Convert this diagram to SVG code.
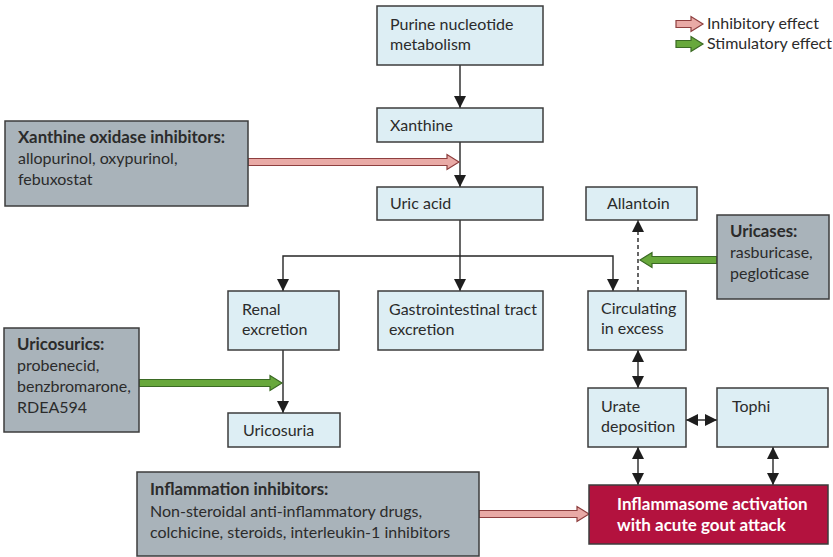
<svg xmlns="http://www.w3.org/2000/svg" width="833" height="557" viewBox="0 0 833 557">
<defs>
<style>
.bx{fill:#ddeef4;stroke:#3c3c3c;stroke-width:1.5}
.gy{fill:#a9b3ba;stroke:#3c3c3c;stroke-width:1.5}
.rd{fill:#b3123e;stroke:#3c3c3c;stroke-width:1.5}
text{font-family:Lato,"Liberation Sans",sans-serif;font-size:16px;fill:#2b2b2b}
.b{font-weight:bold;font-size:16.8px}
.w{fill:#ffffff;font-weight:bold;font-size:17px}
.ln{fill:none;stroke:#262626;stroke-width:1.4}
.inh{fill:#e9aaa6;stroke:#8e3f3f;stroke-width:1.2}
.stm{fill:#68a83c;stroke:#3b6a24;stroke-width:1.2}
</style>
<marker id="ah" viewBox="0 0 12 12" markerWidth="12" markerHeight="12" refX="12" refY="6" orient="auto-start-reverse" markerUnits="userSpaceOnUse">
<path d="M0,0 L12,6 L0,12 z" fill="#1e1e1e"/>
</marker>
</defs>
<rect width="833" height="557" fill="#ffffff"/>

<g id="connectors">
<line class="ln" x1="460" y1="65" x2="460" y2="108" marker-end="url(#ah)"/>
<line class="ln" x1="460" y1="142" x2="460" y2="187" marker-end="url(#ah)"/>
<line class="ln" x1="460" y1="220" x2="460" y2="291" marker-end="url(#ah)"/>
<polyline class="ln" points="283,291 283,256 613,256 613,291" marker-start="url(#ah)" marker-end="url(#ah)"/>
<line class="ln" x1="283" y1="350" x2="283" y2="413" marker-end="url(#ah)"/>
<line class="ln" x1="638" y1="291" x2="638" y2="220" stroke-dasharray="4,3" marker-end="url(#ah)"/>
<line class="ln" x1="638" y1="350" x2="638" y2="388" marker-start="url(#ah)" marker-end="url(#ah)"/>
<line class="ln" x1="686" y1="420" x2="717" y2="420" marker-start="url(#ah)" marker-end="url(#ah)"/>
<line class="ln" x1="638" y1="447" x2="638" y2="485" marker-start="url(#ah)" marker-end="url(#ah)"/>
<line class="ln" x1="773" y1="447" x2="773" y2="485" marker-start="url(#ah)" marker-end="url(#ah)"/>
<path class="inh" d="M248,158.5 H447 V154.5 L459,162 L447,169.5 V165.5 H248 Z"/>
<path class="inh" d="M479,510.5 H577 V506.5 L589,514 L577,521.5 V517.5 H479 Z"/>
<path class="stm" d="M139,379.5 H270 V375.5 L282,383 L270,390.5 V386.5 H139 Z"/>
<path class="stm" d="M717,256.5 H652 V252.5 L640,260 L652,267.5 V263.5 H717 Z"/>
</g>

<g id="legend">
<path class="inh" d="M676,20.5 H691 V16.5 L703,24 L691,31.5 V27.5 H676 Z"/>
<path class="stm" d="M676,40.5 H691 V36.5 L703,44 L691,51.5 V47.5 H676 Z"/>
<text x="707" y="29">Inhibitory effect</text>
<text x="707" y="49">Stimulatory effect</text>
</g>

<g id="purine"><rect class="bx" x="377" y="6" width="166" height="59"/><text x="390" y="30">Purine nucleotide</text><text x="390" y="50">metabolism</text></g>
<g id="xanthine"><rect class="bx" x="377" y="108" width="166" height="34"/><text x="390" y="131">Xanthine</text></g>
<g id="uric-acid"><rect class="bx" x="377" y="187" width="166" height="33"/><text x="390" y="209">Uric acid</text></g>
<g id="allantoin"><rect class="bx" x="586" y="187" width="111" height="33"/><text x="607" y="209">Allantoin</text></g>
<g id="renal"><rect class="bx" x="228" y="291" width="111" height="59"/><text x="242" y="315">Renal</text><text x="242" y="335">excretion</text></g>
<g id="gi"><rect class="bx" x="378" y="291" width="165" height="59"/><text x="389" y="315">Gastrointestinal tract</text><text x="389" y="335">excretion</text></g>
<g id="circulating"><rect class="bx" x="588" y="291" width="98" height="59"/><text x="601" y="314">Circulating</text><text x="601" y="334">in excess</text></g>
<g id="uricosuria"><rect class="bx" x="228" y="413" width="112" height="34"/><text x="243" y="436">Uricosuria</text></g>
<g id="urate"><rect class="bx" x="588" y="388" width="98" height="59"/><text x="601" y="412">Urate</text><text x="601" y="432">deposition</text></g>
<g id="tophi"><rect class="bx" x="717" y="388" width="111" height="59"/><text x="732" y="412">Tophi</text></g>
<g id="inflammasome"><rect class="rd" x="589" y="485" width="239" height="59"/><text class="w" x="617" y="510">Inflammasome activation</text><text class="w" x="617" y="531">with acute gout attack</text></g>

<g id="xo-inhibitors"><rect class="gy" x="5" y="121" width="243" height="85"/><text class="b" x="18" y="143">Xanthine oxidase inhibitors:</text><text x="18" y="164">allopurinol, oxypurinol,</text><text x="18" y="185">febuxostat</text></g>
<g id="uricases"><rect class="gy" x="717" y="215" width="112" height="84"/><text class="b" x="730" y="237">Uricases:</text><text x="730" y="258">rasburicase,</text><text x="730" y="279">pegloticase</text></g>
<g id="uricosurics"><rect class="gy" x="4" y="328" width="135" height="104"/><text class="b" x="17" y="350">Uricosurics:</text><text x="17" y="371">probenecid,</text><text x="17" y="392">benzbromarone,</text><text x="17" y="413">RDEA594</text></g>
<g id="inflammation-inhibitors"><rect class="gy" x="137" y="472" width="342" height="84"/><text class="b" x="150" y="495">Inflammation inhibitors:</text><text x="150" y="517">Non-steroidal anti-inflammatory drugs,</text><text x="150" y="538">colchicine, steroids, interleukin-1 inhibitors</text></g>
</svg>
